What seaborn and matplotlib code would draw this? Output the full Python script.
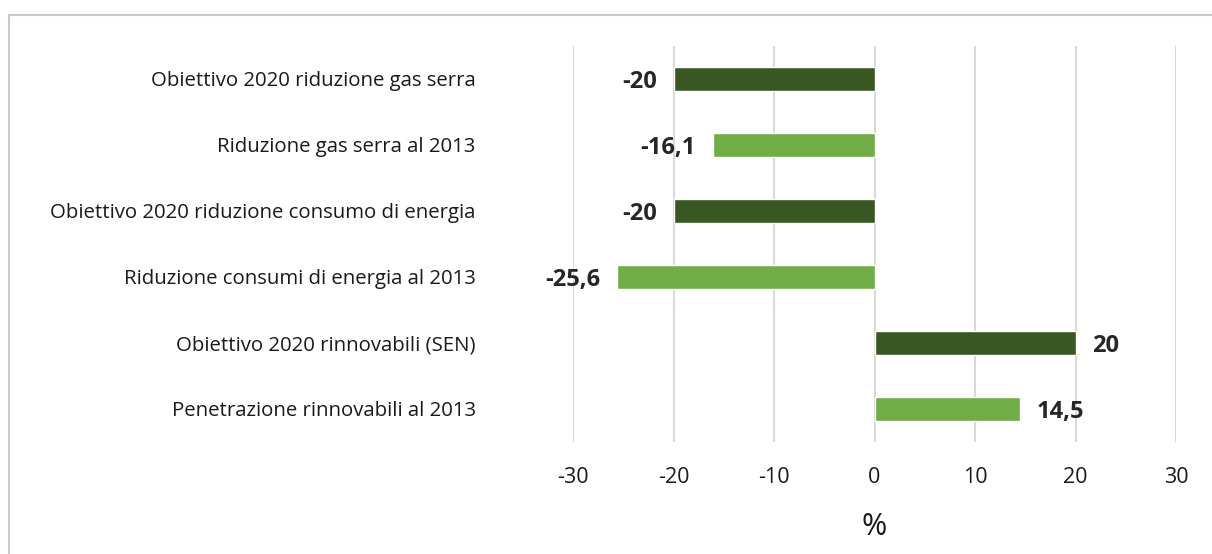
import matplotlib
matplotlib.use("Agg")
import matplotlib.pyplot as plt
from matplotlib.ticker import FuncFormatter
from matplotlib.lines import Line2D
import seaborn as sns
import pandas as pd

categories = [
    "Obiettivo 2020 riduzione gas serra",
    "Riduzione gas serra al 2013",
    "Obiettivo 2020 riduzione consumo di energia",
    "Riduzione consumi di energia al 2013",
    "Obiettivo 2020 rinnovabili (SEN)",
    "Penetrazione rinnovabili al 2013",
]
values = [-20, -16.1, -20, -25.6, 20, 14.5]
kinds = ["obiettivo", "reale", "obiettivo", "reale", "obiettivo", "reale"]
x_ticks = [-30, -20, -10, 0, 10, 20, 30]

DARK = "#385723"
LIGHT = "#70AD47"

sns.set_style("white")
plt.rcParams['font.family'] = ['Open Sans', 'DejaVu Sans']

df = pd.DataFrame({"categoria": categories, "valore": values, "tipo": kinds})

fig = plt.figure(figsize=(12.12, 5.54), dpi=100)
ax = fig.add_axes([0.4728, 0.2022, 0.9703 - 0.4728, 0.917 - 0.2022])

sns.barplot(data=df, y="categoria", x="valore", hue="tipo", orient="h",
            palette={"obiettivo": DARK, "reale": LIGHT}, dodge=False,
            saturation=1, width=0.36, legend=False, ax=ax, zorder=3)

ax.set_xlim(-30, 30)
ax.set_xticks(x_ticks)
ax.xaxis.set_major_formatter(FuncFormatter(lambda v, p: f"{v:g}"))
ax.grid(axis="x", color="#d9d9d9", linewidth=1.5, zorder=0)
ax.grid(axis="y", visible=False)
for s in ax.spines.values():
    s.set_visible(False)
ax.tick_params(axis="both", length=0, colors="#1a1a1a")
ax.tick_params(axis="x", pad=18, labelsize=15.5)
ax.tick_params(axis="y", pad=70, labelsize=14.7)
ax.set_ylabel("")
ax.set_xlabel("%", fontsize=22, labelpad=17, color="#1a1a1a")

for i, v in enumerate(values):
    txt = f"{v:g}".replace(".", ",")
    if v < 0:
        ax.annotate(txt, (v, i), xytext=(-12, 0), textcoords="offset points",
                    ha="right", va="center_baseline", fontsize=17, fontweight="bold")
    else:
        ax.annotate(txt, (v, i), xytext=(12, 0), textcoords="offset points",
                    ha="left", va="center_baseline", fontsize=17, fontweight="bold")

# outer frame of the chart area (top and left edges visible)
fig.add_artist(Line2D([9 / 1212, 1.0], [1 - 15 / 554, 1 - 15 / 554],
                      transform=fig.transFigure, color="#c8c8c8", linewidth=1.5))
fig.add_artist(Line2D([9 / 1212, 9 / 1212], [0.0, 1 - 15 / 554],
                      transform=fig.transFigure, color="#c8c8c8", linewidth=1.5))

fig.savefig("out.png", dpi=100)
